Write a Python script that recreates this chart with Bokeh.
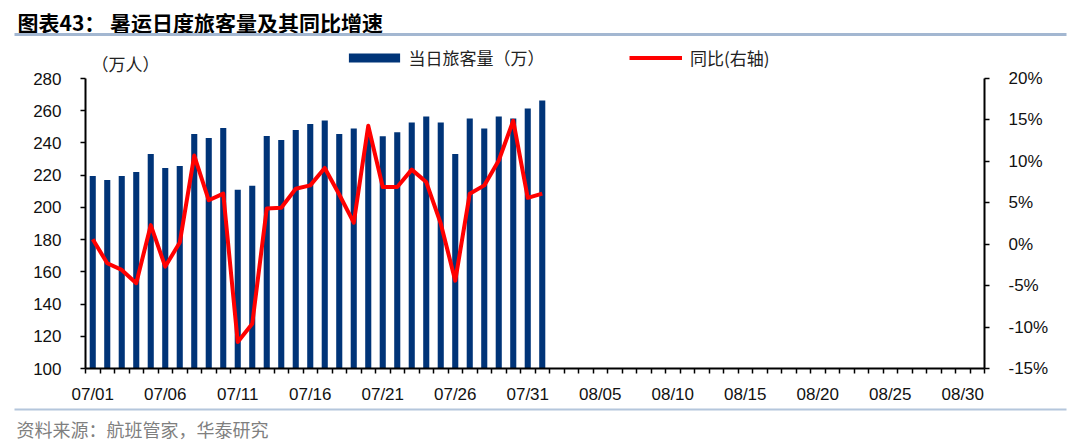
from bokeh.plotting import figure
from bokeh.models import (Range1d, LinearAxis, FixedTicker, PrintfTickFormatter,
                          Label, BoxAnnotation, Legend, LegendItem, ColumnDataSource)
from bokeh.embed import file_html
from bokeh.resources import INLINE

# ---------------- data ----------------
axis_days = [f"07/{d:02d}" for d in range(1, 32)] + [f"08/{d:02d}" for d in range(1, 32)]
dates = ["07/01", "07/02", "07/03", "07/04", "07/05", "07/06", "07/07", "07/08",
         "07/09", "07/10", "07/11", "07/12", "07/13", "07/14", "07/15", "07/16",
         "07/17", "07/18", "07/19", "07/20", "07/21", "07/22", "07/23", "07/24",
         "07/25", "07/26", "07/27", "07/28", "07/29", "07/30", "07/31", "08/01"]
passengers = [219.5, 217.0, 219.5, 222.0, 233.1, 224.5, 225.7, 245.5,
              243.1, 249.3, 210.9, 213.4, 244.3, 241.8, 248.0, 251.7,
              254.0, 245.5, 249.0, 244.1, 244.1, 246.6, 252.7, 256.4,
              252.7, 233.1, 255.2, 249.0, 256.4, 255.2, 261.4, 266.4]
yoy = [0.6, -2.3, -3.1, -4.7, 2.3, -2.7, 0.2, 10.7,
       5.3, 6.1, -11.8, -9.6, 4.3, 4.4, 6.7, 7.1,
       9.2, 6.0, 2.6, 14.3, 6.9, 6.9, 9.0, 7.5,
       2.5, -4.4, 6.1, 7.1, 10.1, 14.9, 5.6, 6.1]
tick_labels = ["07/01", "07/06", "07/11", "07/16", "07/21", "07/26", "07/31",
               "08/05", "08/10", "08/15", "08/20", "08/25", "08/30"]
left_ticks = [100, 120, 140, 160, 180, 200, 220, 240, 260, 280]
right_ticks = [-15, -10, -5, 0, 5, 10, 15, 20]

title_text = "图表43： 暑运日度旅客量及其同比增速"
unit_text = "（万人）"
bar_name = "当日旅客量（万）"
line_name = "同比(右轴)"
source_text = "资料来源：航班管家，华泰研究"

# ---------------- style / layout ----------------
BAR_COLOR = "#003478"
LINE_COLOR = "#FF0000"
NUM_FONT = "Liberation Sans"
CJK_FONT = "Noto Sans CJK SC"
W, H = 1080, 443
AX_L, AX_R, AX_T, AX_B = 85, 984, 78, 368   # pixel box of the axes

n_slots = len(axis_days)
x_lo, x_hi = -0.5, n_slots - 0.5
ppx = (AX_R - AX_L) / (x_hi - x_lo)
y_lo, y_hi = left_ticks[0], left_ticks[-1]
ppy = (AX_B - AX_T) / (y_hi - y_lo)
r_lo, r_hi = right_ticks[0], right_ticks[-1]
ppr = (AX_B - AX_T) / (r_hi - r_lo)

x_idx = [axis_days.index(d) for d in dates]
src = ColumnDataSource(dict(x=x_idx, date=dates, passengers=passengers, yoy=yoy))

p = figure(width=W, height=H, output_backend="svg", toolbar_location=None,
           x_range=Range1d(x_lo - AX_L / ppx, x_hi + (W - AX_R) / ppx),
           y_range=Range1d(y_lo - (H - AX_B) / ppy, y_hi + AX_T / ppy),
           min_border_left=0, min_border_right=0,
           min_border_top=0, min_border_bottom=0)
p.extra_y_ranges = {"pct": Range1d(r_lo - (H - AX_B) / ppr, r_hi + AX_T / ppr)}
p.title.visible = False
p.outline_line_color = None
p.xgrid.grid_line_color = None
p.ygrid.grid_line_color = None
p.background_fill_color = "white"
p.border_fill_color = "white"

bars = p.vbar(x="x", top="passengers", bottom=y_lo, width=0.42,
              source=src, fill_color=BAR_COLOR, line_color=None)
line = p.line(x="x", y="yoy", source=src, y_range_name="pct",
              line_color=LINE_COLOR, line_width=4, line_join="round")

# x axis
xa = p.xaxis[0]
xa.fixed_location = y_lo
xa.bounds = (x_lo, x_hi)
xa.ticker = FixedTicker(ticks=[axis_days.index(t) for t in tick_labels],
                        minor_ticks=[i - 0.5 for i in range(n_slots + 1)])
xa.major_label_overrides = {axis_days.index(t): t for t in tick_labels}
xa.major_tick_out = 0
xa.major_tick_in = 0
xa.minor_tick_out = 5
xa.minor_tick_in = 0
xa.minor_tick_line_color = "black"
xa.minor_tick_line_width = 1.5
xa.axis_line_color = "black"
xa.axis_line_width = 2
xa.major_label_standoff = 11
xa.major_label_text_font = NUM_FONT
xa.major_label_text_font_size = "17px"
xa.major_label_text_color = "#111111"

# left axis
ya = p.yaxis[0]
ya.fixed_location = x_lo
ya.bounds = (y_lo, y_hi)
ya.ticker = FixedTicker(ticks=left_ticks)
ya.major_tick_out = 5
ya.major_tick_in = 0
ya.minor_tick_out = 0
ya.minor_tick_in = 0
ya.major_tick_line_color = "black"
ya.major_tick_line_width = 1.5
ya.axis_line_color = "black"
ya.axis_line_width = 2
ya.major_label_standoff = 19
ya.major_label_text_font = NUM_FONT
ya.major_label_text_font_size = "17px"
ya.major_label_text_color = "#111111"

# right axis
ra = LinearAxis(y_range_name="pct", ticker=FixedTicker(ticks=right_ticks),
                formatter=PrintfTickFormatter(format="%d%%"))
ra.fixed_location = x_hi
ra.bounds = (r_lo, r_hi)
ra.major_tick_out = 5
ra.major_tick_in = 0
ra.minor_tick_out = 0
ra.minor_tick_in = 0
ra.major_tick_line_color = "black"
ra.major_tick_line_width = 1.5
ra.axis_line_color = "black"
ra.axis_line_width = 2
ra.major_label_standoff = 19
ra.major_label_text_font = NUM_FONT
ra.major_label_text_font_size = "17px"
ra.major_label_text_color = "#111111"
p.add_layout(ra, "right")

# legends
common = dict(orientation="horizontal", padding=0, margin=0, border_line_color=None,
              background_fill_alpha=0, label_text_font=CJK_FONT,
              label_text_font_size="17px", label_text_color="#222222",
              glyph_height=11)
leg1 = Legend(items=[LegendItem(label=bar_name, renderers=[bars])],
              location=(341.6, H - 70), glyph_width=64, label_standoff=3, **common)
leg2 = Legend(items=[LegendItem(label=line_name, renderers=[line])],
              location=(629, H - 70), glyph_width=53, label_standoff=8, **common)
p.add_layout(leg1)
p.add_layout(leg2)

# texts (screen units, origin at bottom-left)
p.add_layout(Label(x=17, y=H - 21.5, x_units="screen", y_units="screen", text=title_text,
                   text_font=CJK_FONT, text_font_size="21px", text_font_style="bold",
                   text_color="#000000", text_baseline="middle"))
p.add_layout(Label(x=91, y=H - 63, x_units="screen", y_units="screen", text=unit_text,
                   text_font=CJK_FONT, text_font_size="17px", text_color="#222222",
                   text_baseline="middle"))
p.add_layout(Label(x=16, y=H - 428, x_units="screen", y_units="screen", text=source_text,
                   text_font=CJK_FONT, text_font_size="18px", text_color="#7F7F7F",
                   text_baseline="middle"))

# separator lines
p.add_layout(BoxAnnotation(left=14, right=1066, top=H - 32.5, bottom=H - 35.5,
                           left_units="screen", right_units="screen",
                           top_units="screen", bottom_units="screen",
                           fill_color="#A3B7D1", fill_alpha=1, line_color=None))
p.add_layout(BoxAnnotation(left=14, right=1066, top=H - 408, bottom=H - 410,
                           left_units="screen", right_units="screen",
                           top_units="screen", bottom_units="screen",
                           fill_color="#B4C6DC", fill_alpha=1, line_color=None))

open("out.html", "w").write(file_html(p, INLINE))
